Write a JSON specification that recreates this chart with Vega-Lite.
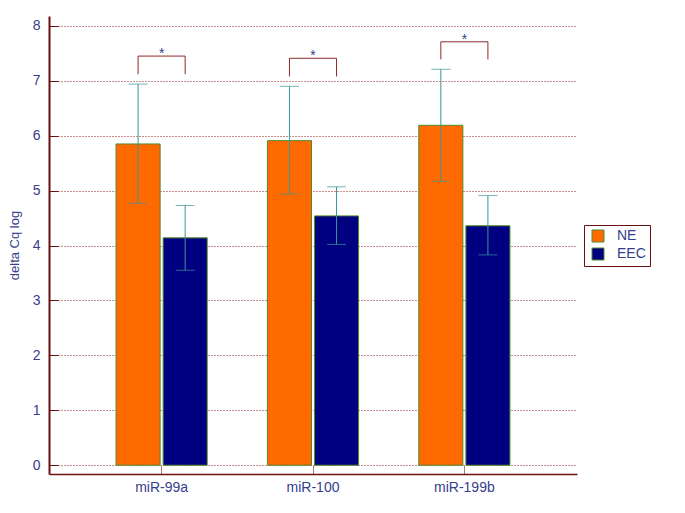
{
  "$schema": "https://vega.github.io/schema/vega-lite/v6.json",
  "autosize": {"type": "none"},
  "width": 528,
  "height": 458,
  "padding": {"left": 49, "top": 16, "right": 108, "bottom": 39},
  "background": "white",
  "config": {
    "view": {"stroke": null},
    "font": "Liberation Sans",
    "axis": {"labelFont": "Liberation Sans", "titleFont": "Liberation Sans"}
  },
  "datasets": {
    "bars": [
      {"gene": "miR-99a", "group": "NE", "value": 5.85, "lo": 4.77, "hi": 6.94},
      {"gene": "miR-99a", "group": "EEC", "value": 4.14, "lo": 3.55, "hi": 4.73},
      {"gene": "miR-100", "group": "NE", "value": 5.91, "lo": 4.94, "hi": 6.90},
      {"gene": "miR-100", "group": "EEC", "value": 4.54, "lo": 4.02, "hi": 5.07},
      {"gene": "miR-199b", "group": "NE", "value": 6.19, "lo": 5.17, "hi": 7.21},
      {"gene": "miR-199b", "group": "EEC", "value": 4.36, "lo": 3.83, "hi": 4.91}
    ],
    "brackets": [
      {"gene": "miR-99a", "group": "NE", "v": 7.12, "k": 1},
      {"gene": "miR-99a", "group": "NE", "v": 7.45, "k": 2},
      {"gene": "miR-99a", "group": "EEC", "v": 7.45, "k": 3},
      {"gene": "miR-99a", "group": "EEC", "v": 7.12, "k": 4},
      {"gene": "miR-100", "group": "NE", "v": 7.08, "k": 1},
      {"gene": "miR-100", "group": "NE", "v": 7.41, "k": 2},
      {"gene": "miR-100", "group": "EEC", "v": 7.41, "k": 3},
      {"gene": "miR-100", "group": "EEC", "v": 7.08, "k": 4},
      {"gene": "miR-199b", "group": "NE", "v": 7.39, "k": 1},
      {"gene": "miR-199b", "group": "NE", "v": 7.71, "k": 2},
      {"gene": "miR-199b", "group": "EEC", "v": 7.71, "k": 3},
      {"gene": "miR-199b", "group": "EEC", "v": 7.39, "k": 4}
    ],
    "stars": [
      {"gene": "miR-99a", "v": 7.45, "label": "*"},
      {"gene": "miR-100", "v": 7.41, "label": "*"},
      {"gene": "miR-199b", "v": 7.71, "label": "*"}
    ]
  },
  "encoding": {
    "x": {
      "field": "gene",
      "type": "nominal",
      "sort": ["miR-99a", "miR-100", "miR-199b"],
      "scale": {"paddingInner": 0.398, "paddingOuter": 0.443},
      "axis": {
        "title": null,
        "labelAngle": 0,
        "labelFontSize": 14,
        "labelColor": "#34408c",
        "domainColor": "#6b1010",
        "domainWidth": 1.5,
        "tickColor": "#b07a7a",
        "tickSize": -9,
        "labelPadding": 15,
        "grid": false
      }
    }
  },
  "layer": [
    {
      "data": {"name": "bars"},
      "mark": {"type": "bar", "stroke": "#4f8a2a", "strokeWidth": 1},
      "encoding": {
        "xOffset": {"field": "group", "type": "nominal", "sort": ["NE", "EEC"], "scale": {"paddingInner": 0.064, "paddingOuter": 0}},
        "y": {
          "field": "value",
          "type": "quantitative",
          "scale": {"domain": [-0.16, 8.18], "nice": false, "zero": false},
          "axis": {
            "title": "delta Cq log",
            "titleFontSize": 13,
            "titleFontWeight": "normal",
            "titleColor": "#34408c",
            "titlePadding": 11,
            "values": [0, 0.5, 1, 1.5, 2, 2.5, 3, 3.5, 4, 4.5, 5, 5.5, 6, 6.5, 7, 7.5, 8],
            "labelExpr": "datum.value % 1 === 0 ? format(datum.value, 'd') : ''",
            "labelFontSize": 14,
            "labelColor": "#34408c",
            "labelPadding": 18,
            "domainColor": "#6b1010",
            "domainWidth": 2,
            "tickColor": "#6b1010",
            "tickSize": {"condition": {"test": "datum.value % 1 === 0", "value": -9}, "value": -5},
            "grid": true,
            "gridColor": "#8b1a1a",
            "gridDash": [1, 2],
            "gridOpacity": {"condition": {"test": "datum.value % 1 === 0", "value": 1}, "value": 0}
          }
        },
        "color": {
          "field": "group",
          "type": "nominal",
          "scale": {"domain": ["NE", "EEC"], "range": ["#ff6a00", "#000080"]},
          "legend": {
            "title": null,
            "orient": "none",
            "legendX": 535,
            "legendY": 209,
            "symbolType": "square",
            "symbolSize": 144,
            "symbolStrokeColor": "#4f8a2a",
            "symbolStrokeWidth": 1,
            "symbolOffset": 3,
            "labelFontSize": 14,
            "labelColor": "#34408c",
            "labelFont": "Liberation Sans",
            "strokeColor": "#6b1010",
            "fillColor": "white",
            "padding": 4,
            "rowPadding": 2,
            "labelOffset": 12
          }
        }
      }
    },
    {
      "data": {"name": "bars"},
      "mark": {"type": "rule", "color": "#3a9696", "strokeWidth": 1},
      "encoding": {
        "xOffset": {"field": "group", "type": "nominal", "sort": ["NE", "EEC"], "scale": {"paddingInner": 0.064, "paddingOuter": 0}},
        "y": {"field": "lo", "type": "quantitative"},
        "y2": {"field": "hi"}
      }
    },
    {
      "data": {"name": "bars"},
      "mark": {"type": "tick", "color": "#3a9696", "size": 19, "thickness": 1, "orient": "horizontal"},
      "encoding": {
        "xOffset": {"field": "group", "type": "nominal", "sort": ["NE", "EEC"], "scale": {"paddingInner": 0.064, "paddingOuter": 0}},
        "y": {"field": "lo", "type": "quantitative"}
      }
    },
    {
      "data": {"name": "bars"},
      "mark": {"type": "tick", "color": "#3a9696", "size": 19, "thickness": 1, "orient": "horizontal"},
      "encoding": {
        "xOffset": {"field": "group", "type": "nominal", "sort": ["NE", "EEC"], "scale": {"paddingInner": 0.064, "paddingOuter": 0}},
        "y": {"field": "hi", "type": "quantitative"}
      }
    },
    {
      "data": {"name": "brackets"},
      "mark": {"type": "line", "color": "#8b2a2a", "strokeWidth": 1},
      "encoding": {
        "xOffset": {"field": "group", "type": "nominal", "sort": ["NE", "EEC"], "scale": {"paddingInner": 0.064, "paddingOuter": 0}},
        "y": {"field": "v", "type": "quantitative"},
        "order": {"field": "k", "type": "quantitative"},
        "detail": {"field": "gene"}
      }
    },
    {
      "data": {"name": "stars"},
      "mark": {"type": "text", "color": "#34408c", "fontSize": 14, "baseline": "alphabetic", "dy": 2, "font": "Liberation Sans"},
      "encoding": {
        "y": {"field": "v", "type": "quantitative"},
        "text": {"field": "label"}
      }
    }
  ]
}
